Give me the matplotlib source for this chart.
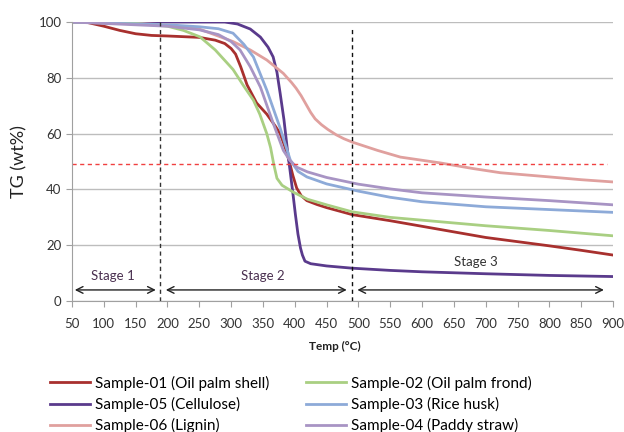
import numpy as np
import matplotlib
matplotlib.use("Agg")
import matplotlib.pyplot as plt

plt.rcParams['font.family'] = ['Lato', 'DejaVu Sans']

# 各サンプルのTG曲線
t01 = [50, 75, 100, 125, 150, 175, 200, 250, 275, 290, 300, 307, 315, 325, 340, 356, 370, 377, 385, 392, 397, 403, 410, 419, 435, 450, 490, 550, 600, 650, 700, 750, 800, 850, 900]
s01 = [100, 99.8, 98.5, 97, 95.8, 95.2, 95, 94.5, 93.5, 92.3, 90.5, 88.5, 84, 77.5, 71, 67, 62.5, 60, 55, 49.5, 45, 40.5, 37.8, 36, 34.6, 33.5, 31, 28.8, 26.8, 24.8, 22.8, 21.3, 19.8, 18.2, 16.5]

t02 = [50, 150, 200, 225, 251, 275, 303, 320, 335, 345, 356, 362, 367, 372, 380, 398, 420, 450, 490, 550, 600, 700, 800, 900]
s02 = [100, 99.5, 98.5, 97, 94.7, 90, 83, 77, 72, 67, 60, 55, 49, 44, 41.5, 39, 36.5, 34.5, 32, 30, 29, 27, 25.3, 23.4]

t05 = [50, 290, 310, 330, 346, 358, 366, 372, 377, 383, 388, 393, 397, 401, 405, 409, 412, 416, 425, 450, 490, 550, 600, 700, 800, 900]
s05 = [100, 100, 99.3, 97.5, 94.6, 91, 87.5, 82, 74.5, 65, 55, 46, 38.7, 31, 24, 19, 16.5, 14.3, 13.4, 12.6, 11.8, 11, 10.5, 9.8, 9.2, 8.8]

t03 = [50, 200, 250, 280, 303, 320, 335, 356, 377, 393, 405, 419, 450, 500, 550, 600, 700, 800, 900]
s03 = [100, 99, 98.3, 97.6, 96, 92, 87.5, 75.6, 62, 50.5, 46.5, 44.5, 42, 39.4, 37.2, 35.6, 33.8, 32.8, 31.8]

t04 = [50, 200, 250, 280, 300, 314, 330, 346, 366, 382, 392, 403, 420, 450, 500, 550, 600, 700, 800, 900]
s04 = [100, 98.5, 97.2, 95.5, 93, 90, 84, 76.7, 63.8, 54, 50.5, 48, 46.3, 44.3, 41.9, 40.2, 38.8, 37.3, 36, 34.5]

t06 = [50, 150, 200, 250, 303, 330, 356, 382, 395, 402, 410, 417, 425, 432, 442, 452, 465, 477, 490, 530, 566, 629, 680, 723, 800, 850, 900]
s06 = [100, 99.5, 99, 97.5, 93, 90, 86.4, 81.6, 78.3, 76.3, 73.6, 70.8, 67.6, 65.3, 63.2, 61.5, 59.6, 58.2, 57, 54, 51.6, 49.5, 47.5, 46, 44.5, 43.5, 42.7]

labels = ["Sample-01 (Oil palm shell)", "Sample-05 (Cellulose)", "Sample-06 (Lignin)",
          "Sample-02 (Oil palm frond)", "Sample-03 (Rice husk)", "Sample-04 (Paddy straw)"]
series = [(t01, s01), (t05, s05), (t06, s06), (t02, s02), (t03, s03), (t04, s04)]
colors = ["#A8302E", "#5A3A8C", "#E0A09E", "#A9CF82", "#8DAAD8", "#A894C4"]

stage_x = [189, 490]
half_line = 49

fig = plt.figure(figsize=(6.24, 4.32), dpi=100)
ax = fig.add_axes([0.1154, 0.303, 0.867, 0.646])

for (t, s), c, lab in zip(series, colors, labels):
    ax.plot(t, s, color=c, lw=2, label=lab)

# 区切り線
ax.plot([stage_x[0], stage_x[0]], [0, 100], color="#333333", lw=1, ls=(0, (3, 2.5)))
ax.plot([stage_x[1], stage_x[1]], [0, 97.5], color="#111111", lw=1, ls=(0, (3, 2.5)))
ax.plot([50, 890], [half_line, half_line], color="#F04040", lw=1, ls=(0, (3, 2.5)))

# ステージの矢印
arr = dict(arrowstyle="<->", color="#222222", lw=1, mutation_scale=12)
ax.annotate("", xy=(50, 4), xytext=(186, 4), arrowprops=arr)
ax.annotate("", xy=(193, 4), xytext=(486, 4), arrowprops=arr)
ax.annotate("", xy=(494, 4), xytext=(890, 4), arrowprops=arr)
ax.text(114, 9, "Stage 1", ha="center", va="center", fontsize=9.5, color="#4A3050")
ax.text(349, 9, "Stage 2", ha="center", va="center", fontsize=9.5, color="#4A3050")
ax.text(684, 14, "Stage 3", ha="center", va="center", fontsize=9.5, color="#333333")

ax.set_xlim(50, 900)
ax.set_ylim(0, 100)
ax.set_xticks(np.arange(50, 901, 50))
ax.set_yticks(np.arange(0, 101, 20))
ax.yaxis.grid(True, color="#BDBDBD", lw=1)
ax.set_axisbelow(True)
for sp in ["top", "right"]:
    ax.spines[sp].set_visible(False)
for sp in ["left", "bottom"]:
    ax.spines[sp].set_color("#A0A0A0")
ax.tick_params(axis="both", colors="#A0A0A0", labelcolor="#333333", labelsize=9.5, length=4)
ax.tick_params(axis="x", pad=8)

ax.set_ylabel("TG (wt%)", fontsize=13, color="#222222", labelpad=8)
fig.text(0.537, 0.197, "Temp (°C)", ha="center", va="center", fontsize=8.5,
         fontweight="bold", color="#222222")

fig.legend(loc="upper left", bbox_to_anchor=(0.07, 0.145), ncol=2, frameon=False,
           fontsize=11, handlelength=2.6, columnspacing=2.4, labelspacing=0.42,
           handletextpad=0.35, borderaxespad=0)

fig.savefig("out.png", dpi=100)
